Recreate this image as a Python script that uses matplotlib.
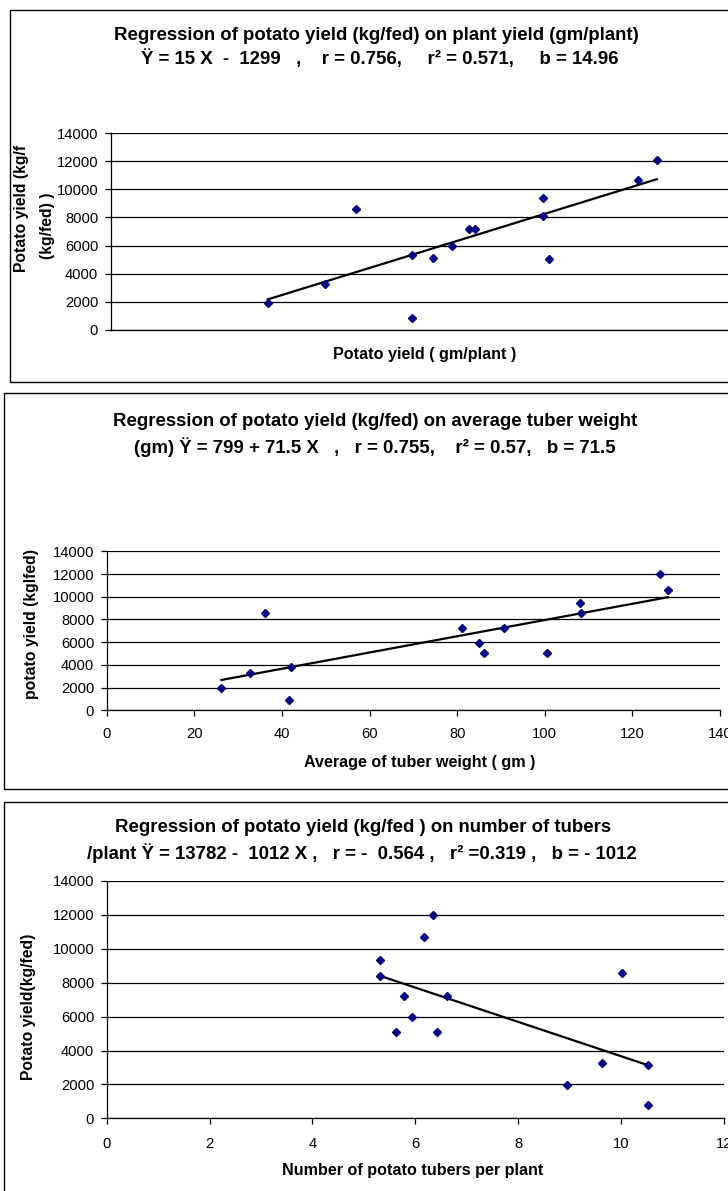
import matplotlib
matplotlib.use("Agg")
import matplotlib.pyplot as plt
from matplotlib.patches import Rectangle
import numpy as np

plt.rcParams['font.family'] = ['Liberation Sans', 'DejaVu Sans']

# ---------------- data ----------------
# Panel 1: plant yield (gm/plant) vs potato yield (kg/fed)
p1_x = [231, 315, 361, 443, 443, 475, 503, 527, 536, 637, 637, 645, 776, 804]
p1_y = [1930, 3260, 8570, 5290, 830, 5120, 5950, 7210, 7210, 9380, 8140, 5020, 10670, 12070]
p1_a, p1_b = -1299, 14.96

# Panel 2: average tuber weight (gm) vs potato yield
p2_x = [26.2, 32.6, 36.2, 42.0, 41.7, 81.1, 85.1, 86.1, 90.7, 100.6, 108.1, 108.2, 126.2, 128.1]
p2_y = [2000, 3290, 8540, 3820, 880, 7250, 5930, 5050, 7250, 5050, 9420, 8540, 12030, 10630]
p2_a, p2_b = 799, 71.5

# Panel 3: number of tubers per plant vs potato yield
p3_x = [5.31, 5.31, 6.16, 6.35, 5.78, 6.61, 5.94, 5.63, 6.42, 10.02, 9.62, 10.52, 8.95, 10.52]
p3_y = [9360, 8420, 10670, 12020, 7190, 7190, 5970, 5090, 5090, 8570, 3280, 3130, 1950, 790]
p3_a, p3_b = 13782, -1012

y_ticks = [0, 2000, 4000, 6000, 8000, 10000, 12000, 14000]
p2_xticks = [0, 20, 40, 60, 80, 100, 120, 140]
p3_xticks = [0, 2, 4, 6, 8, 10, 12]

titles = [
    ("Regression of potato yield (kg/fed) on plant yield (gm/plant)",
     "Ÿ = 15 X  -  1299   ,    r = 0.756,     r² = 0.571,     b = 14.96"),
    ("Regression of potato yield (kg/fed) on average tuber weight",
     "(gm) Ÿ = 799 + 71.5 X   ,   r = 0.755,    r² = 0.57,   b = 71.5"),
    ("Regression of potato yield (kg/fed ) on number of tubers",
     "/plant Ÿ = 13782 -  1012 X ,   r = -  0.564 ,   r² =0.319 ,   b = - 1012"),
]
xlabels = ["Potato yield ( gm/plant )", "Average of tuber weight ( gm )",
           "Number of potato tubers per plant"]
ylabels = [("Potato yield (kg/f", "(kg/fed) )"), "potato yield (kglfed)", "Potato yield(kg/fed)"]

# ---------------- layout helpers ----------------
W, H = 728, 1191
fig = plt.figure(figsize=(W / 100, H / 100), dpi=100)
fig.patch.set_facecolor('white')


def fx(px):
    return px / W


def fy(py):
    return 1 - py / H


def make_ax(left, top, right, bottom):
    return fig.add_axes([fx(left), fy(bottom), fx(right) - fx(left), (bottom - top) / H])


def box(left, top, right, bottom):
    fig.patches.append(Rectangle((fx(left), fy(bottom)), fx(right) - fx(left), (bottom - top) / H,
                                 transform=fig.transFigure, fill=False, edgecolor='black',
                                 linewidth=1.0, zorder=5))


def style(ax, xticks=None, xpad=5):
    ax.set_facecolor('none')
    ax.set_ylim(0, 14000)
    ax.set_yticks(y_ticks)
    ax.yaxis.grid(True, color='black', linewidth=0.9)
    ax.set_axisbelow(True)
    for s in ('top', 'right'):
        ax.spines[s].set_visible(False)
    ax.spines['left'].set_linewidth(0.9)
    ax.spines['bottom'].set_linewidth(0.9)
    ax.tick_params(axis='y', direction='out', length=4, width=0.9, pad=5, labelsize=10.6)
    if xticks is None:
        ax.set_xticks([])
    else:
        ax.set_xticks(xticks)
        ax.tick_params(axis='x', direction='out', length=4, width=0.9, pad=xpad, labelsize=10.6)


def scatter_line(ax, xs, ys, a, b):
    xs = np.asarray(xs, float)
    xl = np.array([xs.min(), xs.max()])
    ax.plot(xl, a + b * xl, color='black', linewidth=1.6, zorder=3)
    ax.plot(xs, ys, linestyle='none', marker='D', markersize=4.2,
            color='#000080', markeredgecolor='#000080', zorder=4)


tkw = dict(ha='center', va='center', fontsize=13.4, fontweight='bold')
lkw = dict(ha='center', va='center', fontsize=11.6, fontweight='bold')
ykw = dict(rotation=90, fontsize=11.3, fontweight='bold')

# ---------------- panel 1 ----------------
box(10, 10, 760, 382)
ax1 = make_ax(110.7, 133.3, 790, 329.7)
style(ax1)
ax1.set_xlim(0, 1000)
scatter_line(ax1, p1_x, p1_y, p1_a, p1_b)
fig.text(fx(376), fy(35), titles[0][0], **tkw)
fig.text(fx(380), fy(59), titles[0][1], **tkw)
fig.text(fx(425), fy(355), xlabels[0], **lkw)
fig.text(fx(22), fy(272), ylabels[0][0], ha='center', va='bottom', **ykw)
fig.text(fx(47), fy(226), ylabels[0][1], ha='center', va='center', **ykw)

# ---------------- panel 2 ----------------
box(4, 393, 760, 789)
ax2 = make_ax(106.7, 551.3, 720, 710.3)
style(ax2, p2_xticks, xpad=8)
ax2.set_xlim(0, 140)
scatter_line(ax2, p2_x, p2_y, p2_a, p2_b)
fig.text(fx(375), fy(421), titles[1][0], **tkw)
fig.text(fx(375), fy(447), titles[1][1], **tkw)
fig.text(fx(420), fy(763), xlabels[1], **lkw)
fig.text(fx(32), fy(624), ylabels[1], ha='center', va='center', **ykw)

# ---------------- panel 3 ----------------
box(4, 802, 760, 1210)
ax3 = make_ax(106.7, 881, 724, 1118.3)
style(ax3, p3_xticks, xpad=9.3)
ax3.set_xlim(0, 12)
scatter_line(ax3, p3_x, p3_y, p3_a, p3_b)
fig.text(fx(363), fy(828), titles[2][0], **tkw)
fig.text(fx(362), fy(853), titles[2][1], **tkw)
fig.text(fx(413), fy(1170), xlabels[2], **lkw)
fig.text(fx(29), fy(1007), ylabels[2], ha='center', va='center', **ykw)

fig.savefig("out.png", dpi=100)
